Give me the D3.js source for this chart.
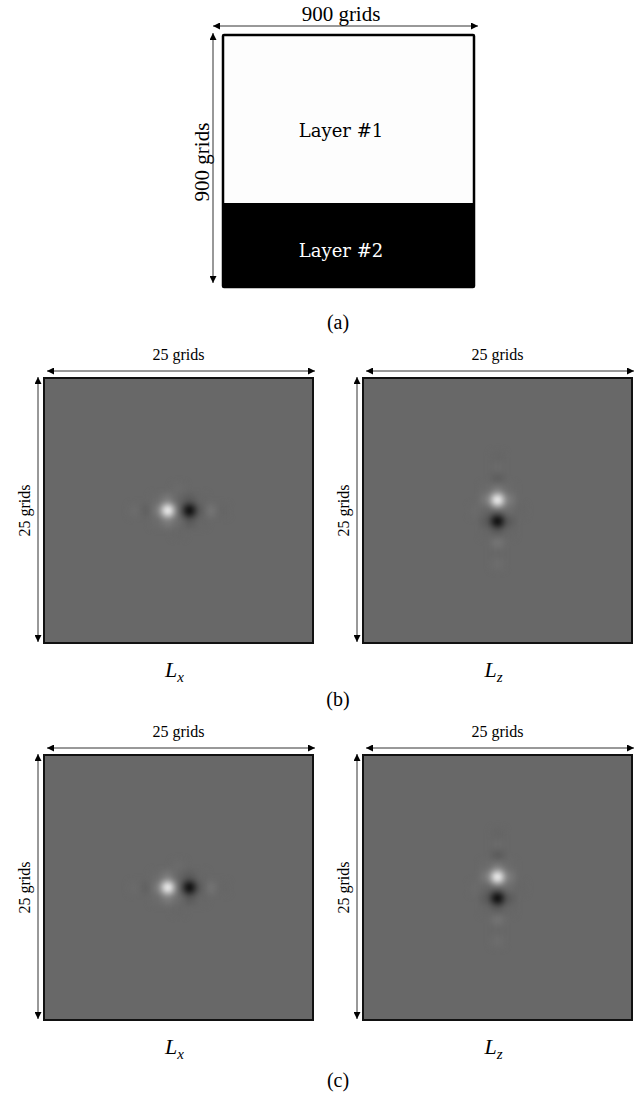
<!DOCTYPE html>
<html>
<head>
<meta charset="utf-8">
<script src="https://cdn.jsdelivr.net/npm/d3@7"></script>
<style>
  body { margin: 0; background: #fff; }
  svg { display: block; }
</style>
</head>
<body>
<svg id="chart" width="644" height="1095"></svg>
<script>
// model in (a)
const modelSize = 900;
const layerNames = ["Layer #1", "Layer #2"];
const layerTops = [0, 600];
const layerBottoms = [600, 900];

// kernels in (b) and (c), 25 x 25 grids, centre cell is 12
const gridN = 25;
const gridIdx = d3.range(gridN);
// Lx : values along the centre row (col 0..24)
const lxRowB = [0,0,0,0,0,0,0,0,0.03,-0.09,0.12,1.0,0,-1.0,-0.12,0.09,-0.03,0,0,0,0,0,0,0,0];
const lxRowC = [0,0,0,0,0,0,0,0,0.02,-0.08,0.12,1.0,0,-1.0,-0.12,0.08,-0.02,0,0,0,0,0,0,0,0];
// Lx : rows just above and below the centre row
const lxNearB = [0,0,0,0,0,0,0,0,0,0,0.02,0.14,0,-0.14,-0.02,0,0,0,0,0,0,0,0,0,0];
const lxNearC = [0,0,0,0,0,0,0,0,0,0,0.02,0.14,0,-0.14,-0.02,0,0,0,0,0,0,0,0,0,0];
// Lx : faint values along the centre column (row 0..24)
const lxColB = [0,0,0,0,0,0,0,0,0,0,0.02,-0.03,0,0.03,-0.02,0,0,0,0,0,0,0,0,0,0];
const lxColC = [0,0,0,0,0,0,0,0,0,0,0.02,-0.03,0,0.03,-0.02,0,0,0,0,0,0,0,0,0,0];
// Lz : values along the centre column (row 0..24)
const lzColB = [0,0,0,0,0,0,0,-0.03,0.02,-0.12,0.12,1.0,0,-1.0,-0.12,0.09,-0.02,0.03,0,0,0,0,0,0,0];
const lzColC = [0,0,0,0,0,0,0,-0.04,0.02,-0.14,0.12,1.0,0,-1.0,-0.12,0.08,-0.02,0.03,0,0,0,0,0,0,0];
// Lz : columns just left and right of the centre column
const lzNearB = [0,0,0,0,0,0,0,0,0,0,0.02,0.14,0,-0.14,-0.02,0,0,0,0,0,0,0,0,0,0];
const lzNearC = [0,0,0,0,0,0,0,0,0,0,0.02,0.14,0,-0.14,-0.02,0,0,0,0,0,0,0,0,0,0];
// Lz : faint values along the centre row
const lzRowB = [0,0,0,0,0,0,0,0,0,0,0.02,-0.03,0,0.03,-0.02,0,0,0,0,0,0,0,0,0,0];
const lzRowC = [0,0,0,0,0,0,0,0,0,0,0.02,-0.03,0,0.03,-0.02,0,0,0,0,0,0,0,0,0,0];

const panelLabels = ["(a)", "(b)", "(c)"];
const sizeLabel = "25 grids";

const svg = d3.select("#chart");
const defs = svg.append("defs");

const arrowColor = "#333";
defs.append("marker")
    .attr("id", "head")
    .attr("viewBox", "0 0 10 10")
    .attr("refX", 10).attr("refY", 5)
    .attr("markerWidth", 7).attr("markerHeight", 7)
    .attr("markerUnits", "userSpaceOnUse")
    .attr("orient", "auto-start-reverse")
    .append("path")
    .attr("d", "M0,0L10,5L0,10Z")
    .attr("fill", "#000");

defs.append("filter")
    .attr("id", "smooth")
    .attr("color-interpolation-filters", "sRGB")
    .attr("filterUnits", "userSpaceOnUse")
    .attr("x", 0).attr("y", 0).attr("width", 644).attr("height", 1095)
    .append("feGaussianBlur")
    .attr("stdDeviation", 3.7);

function arrow(x1, y1, x2, y2) {
    svg.append("line")
        .attr("x1", x1).attr("y1", y1).attr("x2", x2).attr("y2", y2)
        .attr("stroke", arrowColor)
        .attr("stroke-width", 1)
        .attr("marker-start", "url(#head)")
        .attr("marker-end", "url(#head)");
}

// ---- (a) ----
const ax = d3.scaleLinear().domain([0, modelSize]).range([223, 474]);
const ay = d3.scaleLinear().domain([0, modelSize]).range([35, 287]);
const layerBase = [137, 257];

svg.selectAll(".layer")
    .data(layerNames)
    .enter().append("rect")
    .attr("class", "layer")
    .attr("x", ax(0))
    .attr("y", (d, i) => ay(layerTops[i]))
    .attr("width", ax(modelSize) - ax(0))
    .attr("height", (d, i) => ay(layerBottoms[i]) - ay(layerTops[i]))
    .attr("fill", (d, i) => i === 0 ? "#fdfdfd" : "#000");

svg.append("rect")
    .attr("x", ax(0)).attr("y", ay(0))
    .attr("width", ax(modelSize) - ax(0))
    .attr("height", ay(modelSize) - ay(0))
    .attr("fill", "none").attr("stroke", "#000").attr("stroke-width", 2.5)
    .attr("rx", 1);

svg.selectAll(".layerLabel")
    .data(layerNames)
    .enter().append("text")
    .attr("class", "layerLabel")
    .attr("x", 341)
    .attr("y", (d, i) => layerBase[i])
    .attr("text-anchor", "middle")
    .attr("font-family", "DejaVu Serif")
    .attr("font-size", 18)
    .attr("fill", (d, i) => i === 0 ? "#000" : "#fff")
    .text(d => d);

arrow(ax(0) - 10, 26, ax(modelSize) + 4, 26);
arrow(213, ay(0) - 2, 213, ay(modelSize) - 4);

svg.append("text")
    .attr("x", 341).attr("y", 21)
    .attr("text-anchor", "middle")
    .attr("font-family", "Liberation Serif")
    .attr("font-size", 21)
    .text(modelSize + " grids");

svg.append("text")
    .attr("transform", "translate(209," + 162 + ") rotate(-90)")
    .attr("text-anchor", "middle")
    .attr("font-family", "Liberation Serif")
    .attr("font-size", 21)
    .text(modelSize + " grids");

svg.append("text")
    .attr("x", 338).attr("y", 329)
    .attr("text-anchor", "middle")
    .attr("font-family", "Liberation Serif")
    .attr("font-size", 20)
    .text(panelLabels[0]);

// ---- (b), (c) ----
const color = d3.scaleLinear()
    .domain([-1, 0, 1])
    .range(["#000", "#686868", "#fff"])
    .clamp(true);

const panels = [
    { id: "bx", left: 44, top: 378, axis: "x", main: lxRowB, near: lxNearB, cross: lxColB },
    { id: "bz", left: 363, top: 378, axis: "z", main: lzColB, near: lzNearB, cross: lzRowB },
    { id: "cx", left: 44, top: 755, axis: "x", main: lxRowC, near: lxNearC, cross: lxColC },
    { id: "cz", left: 363, top: 755, axis: "z", main: lzColC, near: lzNearC, cross: lzRowC }
];
const panelW = 269, panelH = 265;

panels.forEach(p => {
    const x = d3.scaleBand().domain(gridIdx).range([p.left, p.left + panelW]);
    const y = d3.scaleBand().domain(gridIdx).range([p.top, p.top + panelH]);

    // a = index along the derivative direction, b = across it
    const cells = [];
    gridIdx.forEach(r => gridIdx.forEach(c => {
        const a = p.axis === "x" ? c : r;
        const b = p.axis === "x" ? r : c;
        let v = 0;
        if (b === 12) v += p.main[a];
        if (b === 11 || b === 13) v += p.near[a];
        if (a === 12) v += p.cross[b];
        if (v !== 0) cells.push({ r: r, c: c, v: v });
    }));

    defs.append("clipPath").attr("id", "clip-" + p.id)
        .append("rect")
        .attr("x", p.left).attr("y", p.top)
        .attr("width", panelW).attr("height", panelH);

    const g = svg.append("g").attr("clip-path", "url(#clip-" + p.id + ")");
    g.append("rect")
        .attr("x", p.left).attr("y", p.top)
        .attr("width", panelW).attr("height", panelH)
        .attr("fill", color(0));

    g.append("g")
        .attr("filter", "url(#smooth)")
        .selectAll("rect")
        .data(cells)
        .enter().append("rect")
        .attr("x", d => x(d.c))
        .attr("y", d => y(d.r))
        .attr("width", x.bandwidth() + 0.5)
        .attr("height", y.bandwidth() + 0.5)
        .attr("fill", d => color(d.v));

    svg.append("rect")
        .attr("x", p.left).attr("y", p.top)
        .attr("width", panelW).attr("height", panelH)
        .attr("fill", "none").attr("stroke", "#111").attr("stroke-width", 2);

    const cx = p.left + panelW / 2;
    const cy = p.top + panelH / 2;

    arrow(p.left + 3, p.top - 7, p.left + panelW + 2, p.top - 7);
    arrow(p.left - 6, p.top - 1, p.left - 6, p.top + panelH - 1);

    svg.append("text")
        .attr("x", cx).attr("y", p.top - 18)
        .attr("text-anchor", "middle")
        .attr("font-family", "Liberation Serif")
        .attr("font-size", 16)
        .text(sizeLabel);

    svg.append("text")
        .attr("transform", "translate(" + (p.left - 14) + "," + cy + ") rotate(-90)")
        .attr("text-anchor", "middle")
        .attr("font-family", "Liberation Serif")
        .attr("font-size", 16)
        .text(sizeLabel);

    const lab = svg.append("text")
        .attr("x", cx - 4).attr("y", p.top + panelH + 34)
        .attr("text-anchor", "middle")
        .attr("font-family", "Liberation Serif")
        .attr("font-style", "italic")
        .attr("font-size", 22);
    lab.append("tspan").text("L");
    lab.append("tspan").attr("dy", 5).attr("font-size", 15).text(p.axis);
});

svg.append("text")
    .attr("x", 338).attr("y", 706)
    .attr("text-anchor", "middle")
    .attr("font-family", "Liberation Serif")
    .attr("font-size", 20)
    .text(panelLabels[1]);

svg.append("text")
    .attr("x", 338).attr("y", 1087)
    .attr("text-anchor", "middle")
    .attr("font-family", "Liberation Serif")
    .attr("font-size", 20)
    .text(panelLabels[2]);
</script>
</body>
</html>
